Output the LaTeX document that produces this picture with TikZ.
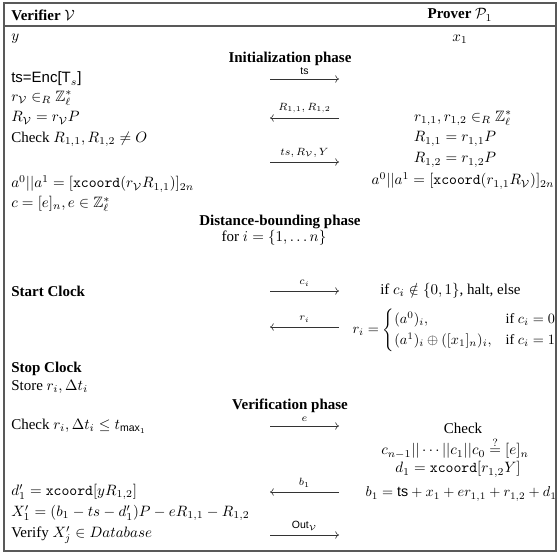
\documentclass[tikz,border=0pt]{standalone}
\usepackage{amsmath,amssymb}
\usepackage{fontspec}
\setmainfont{Liberation Serif}
\setsansfont{Liberation Sans}
\usetikzlibrary{arrows.meta}
\tikzset{
  lt/.style={anchor=west, inner sep=0pt},
  rt/.style={anchor=center, inner sep=0pt},
  ph/.style={anchor=center, inner sep=0pt, font=\bfseries},
  msg/.style={draw=black!80, line width=0.4pt, -{Computer Modern Rightarrow[length=2.5pt,width=5pt]}},
  lbl/.style={font=\scriptsize, inner sep=0pt, above=3pt},
  frame/.style={draw=black!65, line width=0.8pt},
}
\begin{document}
\begin{tikzpicture}[x=0.6667pt, y=-0.6667pt]
\useasboundingbox (0,0) rectangle (560,554);
% frame
\draw[frame] (4,3) rectangle (556,551);
\draw[frame] (4,26) -- (556,26);
% header
\node[lt] (hv) at (11,15) {\textbf{Verifier} $\mathcal{V}$};
\node[rt] (hp) at (460,15) {\textbf{Prover} $\mathcal{P}_1$};
\node[lt] (y) at (11,39) {$y$};
\node[rt] (x1) at (460,39) {$x_1$};
% initialization
\node[ph] (init) at (290,59) {Initialization phase};
\node[lt] (ts) at (11,79) {\textsf{ts=Enc[T}$_s$\textsf{]}};
\coordinate (a1l) at (270,79); \coordinate (a1r) at (339,79);
\draw[msg] (a1l) -- (a1r) node[midway,lbl] {\textsf{ts}};
\node[lt] (rv) at (11,98) {$r_{\mathcal{V}} \in_R \mathbb{Z}_\ell^*$};
\node[lt] (Rv) at (11,118) {$R_{\mathcal{V}} = r_{\mathcal{V}}P$};
\coordinate (a2l) at (270,118); \coordinate (a2r) at (339,118);
\draw[msg] (a2r) -- (a2l) node[midway,lbl] {$R_{1,1}, R_{1,2}$};
\node[rt] (r12) at (463,118) {$r_{1,1}, r_{1,2} \in_R \mathbb{Z}_\ell^*$};
\node[lt] (chk) at (11,139) {Check $R_{1,1}, R_{1,2} \neq O$};
\node[rt] (R11) at (455,139) {$R_{1,1} = r_{1,1}P$};
\coordinate (a3l) at (270,162); \coordinate (a3r) at (339,162);
\draw[msg] (a3l) -- (a3r) node[midway,lbl] {$ts, R_{\mathcal{V}}, Y$};
\node[rt] (R12) at (455,160) {$R_{1,2} = r_{1,2}P$};
\node[lt] (av) at (11,184) {$a^0||a^1 = [\mathtt{xcoord}(r_{\mathcal{V}}R_{1,1})]_{2n}$};
\node[rt] (ap) at (463,181) {$a^0||a^1 = [\mathtt{xcoord}(r_{1,1}R_{\mathcal{V}})]_{2n}$};
\node[lt] (ce) at (11,204) {$c = [e]_n, e \in \mathbb{Z}_\ell^*$};
% distance bounding
\node[ph] (dist) at (280,222) {Distance-bounding phase};
\node[rt] (fori) at (274,238) {for $i = \{1, \ldots n\}$};
\node[lt] (start) at (11,291) {\textbf{Start Clock}};
\coordinate (a4l) at (270,291); \coordinate (a4r) at (339,291);
\draw[msg] (a4l) -- (a4r) node[midway,lbl] {$c_i$};
\node[lt] (ifc) at (380,291) {if $c_i \notin \{0,1\}$, halt, else};
\coordinate (a5l) at (270,327); \coordinate (a5r) at (339,327);
\draw[msg] (a5r) -- (a5l) node[midway,lbl] {$r_i$};
\node[anchor=east, inner sep=0pt, scale=0.95] (ri) at (557,330) {$r_i = \begin{cases} (a^0)_i, & \text{if } c_i = 0\\ (a^1)_i \oplus ([x_1]_n)_i, & \text{if } c_i = 1\end{cases}$};
\node[lt] (stop) at (11,369) {\textbf{Stop Clock}};
\node[lt] (store) at (11,387) {Store $r_i, \Delta t_i$};
% verification
\node[ph] (ver) at (290,406) {Verification phase};
\node[lt] (chkr) at (11,426) {Check $r_i, \Delta t_i \leq t_{\mathsf{max}_1}$};
\coordinate (a6l) at (270,426); \coordinate (a6r) at (339,426);
\draw[msg] (a6l) -- (a6r) node[midway,lbl] {$e$};
\node[rt] (chkp) at (463,428) {Check};
\node[anchor=base, inner sep=0pt] (cn) at (455,455) {$c_{n-1}||\cdots||c_1||c_0 \stackrel{?}{=} [e]_n$};
\node[anchor=base, inner sep=0pt] (d1) at (458,473) {$d_1 = \mathtt{xcoord}[r_{1,2}Y]$};
\node[lt] (dp) at (11,492) {$d_1' = \mathtt{xcoord}[yR_{1,2}]$};
\coordinate (a7l) at (270,492); \coordinate (a7r) at (339,492);
\draw[msg] (a7r) -- (a7l) node[midway,lbl] {$b_1$};
\node[anchor=east, inner sep=0pt, scale=0.95] (b1) at (557,494) {$b_1 = \mathsf{ts} + x_1 + er_{1,1} + r_{1,2} + d_1$};
\node[lt] (X1) at (11,513) {$X_1' = (b_1 - ts - d_1')P - eR_{1,1} - R_{1,2}$};
\node[lt] (vfy) at (11,535) {Verify $X_j' \in Database$};
\coordinate (a8l) at (270,535); \coordinate (a8r) at (339,535);
\draw[msg] (a8l) -- (a8r) node[midway,lbl] {\textsf{Out}$_{\mathcal{V}}$};
\end{tikzpicture}
\end{document}
